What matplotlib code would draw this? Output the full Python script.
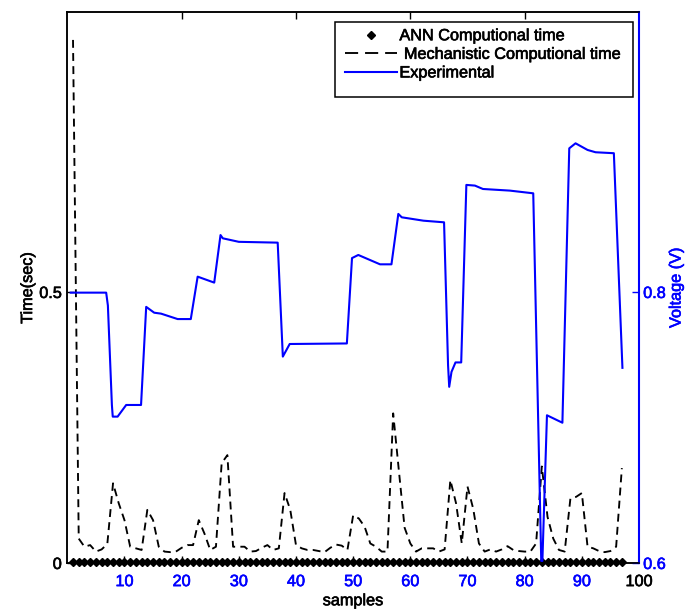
import matplotlib
matplotlib.use("Agg")
import matplotlib.pyplot as plt
from matplotlib.lines import Line2D
from matplotlib.patches import Rectangle
import matplotlib.patheffects as pe

plt.rcParams['font.family'] = ['Liberation Sans', 'DejaVu Sans']

# ---- data ----
samples = list(range(1, 98))

ann_time = [
    0.002, 0.002, 0.002, 0.002, 0.002, 0.002, 0.002, 0.002, 0.002, 0.002,
    0.002, 0.002, 0.002, 0.002, 0.002, 0.002, 0.002, 0.002, 0.002, 0.002,
    0.002, 0.002, 0.002, 0.002, 0.002, 0.002, 0.002, 0.002, 0.002, 0.002,
    0.002, 0.002, 0.002, 0.002, 0.002, 0.002, 0.002, 0.002, 0.002, 0.002,
    0.002, 0.002, 0.002, 0.002, 0.002, 0.002, 0.002, 0.002, 0.002, 0.002,
    0.002, 0.002, 0.002, 0.002, 0.002, 0.002, 0.002, 0.002, 0.002, 0.002,
    0.002, 0.002, 0.002, 0.002, 0.002, 0.002, 0.002, 0.002, 0.002, 0.002,
    0.002, 0.002, 0.002, 0.002, 0.002, 0.002, 0.002, 0.002, 0.002, 0.002,
    0.002, 0.002, 0.002, 0.002, 0.002, 0.002, 0.002, 0.002, 0.002, 0.002,
    0.002, 0.002, 0.002, 0.002, 0.002, 0.002, 0.002,
]

mech_time = [
    0.965, 0.045, 0.030, 0.033, 0.021, 0.025, 0.035, 0.147, 0.110, 0.079,   # 1-10
    0.030, 0.027, 0.024, 0.098, 0.079, 0.030, 0.021, 0.020, 0.021, 0.028,   # 11-20
    0.033, 0.033, 0.079, 0.054, 0.024, 0.030, 0.184, 0.199, 0.030, 0.030,   # 21-30
    0.030, 0.021, 0.022, 0.028, 0.033, 0.024, 0.027, 0.129, 0.098, 0.033,   # 31-40
    0.027, 0.024, 0.024, 0.022, 0.020, 0.028, 0.034, 0.032, 0.024, 0.088,   # 41-50
    0.082, 0.067, 0.036, 0.030, 0.021, 0.021, 0.276, 0.170, 0.065, 0.036,   # 51-60
    0.021, 0.027, 0.027, 0.027, 0.021, 0.025, 0.153, 0.110, 0.036, 0.141,   # 61-70
    0.100, 0.036, 0.021, 0.025, 0.021, 0.025, 0.031, 0.024, 0.022, 0.021,   # 71-80
    0.021, 0.036, 0.178, 0.085, 0.045, 0.024, 0.021, 0.119, 0.122, 0.129,   # 81-90
    0.030, 0.027, 0.022, 0.020, 0.022, 0.030, 0.175,                        # 91-97
]

exp_x = [0.6, 6.8, 7.1, 7.8, 7.95, 8.8, 10.3, 12.9, 13.8, 15.2, 16.4, 19.3,
         21.6, 22.8, 25.7, 26.8, 27.2, 30.0, 36.8, 37.7, 38.9, 48.9, 49.8,
         50.9, 54.7, 56.7, 57.9, 58.5, 62.3, 65.9, 66.6, 66.8, 67.2, 67.9,
         68.9, 69.8, 71.3, 72.7, 77.4, 81.5, 82.9, 83.1, 83.9, 86.6, 87.8,
         88.9, 91.0, 92.4, 95.6, 97.1]
exp_v = [0.7995, 0.7995, 0.790, 0.7166, 0.708, 0.708, 0.7166, 0.7166, 0.789,
         0.7847, 0.784, 0.780, 0.780, 0.8113, 0.8069, 0.842, 0.8396, 0.837,
         0.8364, 0.7523, 0.7616, 0.762, 0.825, 0.8273, 0.8204, 0.8204, 0.8576,
         0.8551, 0.8526, 0.8514, 0.746, 0.730, 0.741, 0.748, 0.748, 0.879,
         0.8785, 0.876, 0.8748, 0.8728, 0.6015, 0.6015, 0.709, 0.7035, 0.906,
         0.9097, 0.9048, 0.9031, 0.9024, 0.744]

legend_labels = ['ANN Computional time', ' Mechanistic Computional time', 'Experimental']
x_tick_vals = [10, 20, 30, 40, 50, 60, 70, 80, 90, 100]
x_tick_labels = ['10', '20', '30', '40', '50', '60', '70', '80', '90', '100']
top_tick_vals = [20, 40, 60, 80]
left_tick_vals = [0, 0.5]
left_tick_labels = ['0', '0.5']
right_tick_vals = [0.6, 0.8]
right_tick_labels = ['0.6', '0.8']

BLUE = '#0000ff'
FS = 11.7


def bolden(txt, color):
    txt.set_path_effects([pe.withStroke(linewidth=0.45, foreground=color)])


fig = plt.figure(figsize=(6.86, 6.11), dpi=100)
ax = fig.add_axes([0.0981, 0.0786, 0.8334, 0.9013])
ax2 = ax.twinx()

ax.plot(samples, ann_time, linestyle='-', linewidth=0.8, marker='D', markersize=3.6,
        color='black', zorder=3, clip_on=False)
ax.plot(samples, mech_time, linestyle=(0, (4.2, 2.8)), linewidth=1.35, color='black')
ax2.plot(exp_x, exp_v, color=BLUE, linewidth=1.5)

ax.set_xlim(0, 100)
ax.set_ylim(0, 1.016)
ax2.set_ylim(0.6, 1.0064)

# x ticks
ax.set_xticks(x_tick_vals)
ax.set_xticklabels(x_tick_labels, fontsize=FS)
ax.tick_params(axis='x', direction='in', length=5, width=1, pad=8, top=True)
for val, tick, lab in zip(x_tick_vals, ax.xaxis.get_major_ticks(), ax.get_xticklabels()):
    if val == 100:
        lab.set_color('black')
        bolden(lab, 'black')
        tick.tick1line.set_visible(False)
        tick.tick2line.set_visible(False)
    else:
        lab.set_color(BLUE)
        bolden(lab, BLUE)
        tick.tick1line.set_color(BLUE)
        tick.tick2line.set_visible(val in top_tick_vals)
        tick.tick2line.set_color('black')

ax.set_yticks(left_tick_vals)
ax.set_yticklabels(left_tick_labels, fontsize=FS)
ax.tick_params(axis='y', direction='in', length=5, width=1, pad=4)
for lab in ax.get_yticklabels():
    bolden(lab, 'black')

ax2.set_yticks(right_tick_vals)
ax2.set_yticklabels(right_tick_labels, fontsize=FS, color=BLUE)
ax2.tick_params(axis='y', direction='in', length=5, width=1, pad=3, colors=BLUE)
for lab in ax2.get_yticklabels():
    bolden(lab, BLUE)

for sp in ax.spines.values():
    sp.set_linewidth(1.1)
for sp in ax2.spines.values():
    sp.set_linewidth(1.1)
ax2.spines['right'].set_color(BLUE)
ax2.spines['right'].set_linewidth(1.5)
ax.spines['right'].set_visible(False)

bolden(ax.set_xlabel('samples', fontsize=FS, labelpad=3), 'black')
bolden(ax.set_ylabel('Time(sec)', fontsize=FS, labelpad=3), 'black')
bolden(ax2.set_ylabel('Voltage (V)', fontsize=FS, color=BLUE, labelpad=2), BLUE)

# legend (frame drawn separately to match the original box proportions)
h_ann = Line2D([], [], linestyle='none', marker='D', markersize=3.6, color='black')
h_mech = Line2D([], [], linestyle=(0, (7.0, 3.7)), linewidth=1.35, color='black')
h_exp = Line2D([], [], color=BLUE, linewidth=1.5)
leg = ax2.legend(handles=[h_ann, h_mech, h_exp], labels=legend_labels,
                 loc='upper left', bbox_to_anchor=(0.4857, 0.971), fontsize=FS,
                 frameon=False, handlelength=3.2, handletextpad=0.15,
                 labelspacing=0.22, borderpad=0, borderaxespad=0)
for t in leg.get_texts():
    bolden(t, 'black')
ax2.add_patch(Rectangle((0.468, 0.846), 0.9895 - 0.468, 0.983 - 0.846,
                        transform=ax2.transAxes, facecolor='white',
                        edgecolor='black', linewidth=1.1, zorder=4))
leg.set_zorder(5)

fig.savefig('out.png', dpi=100)
